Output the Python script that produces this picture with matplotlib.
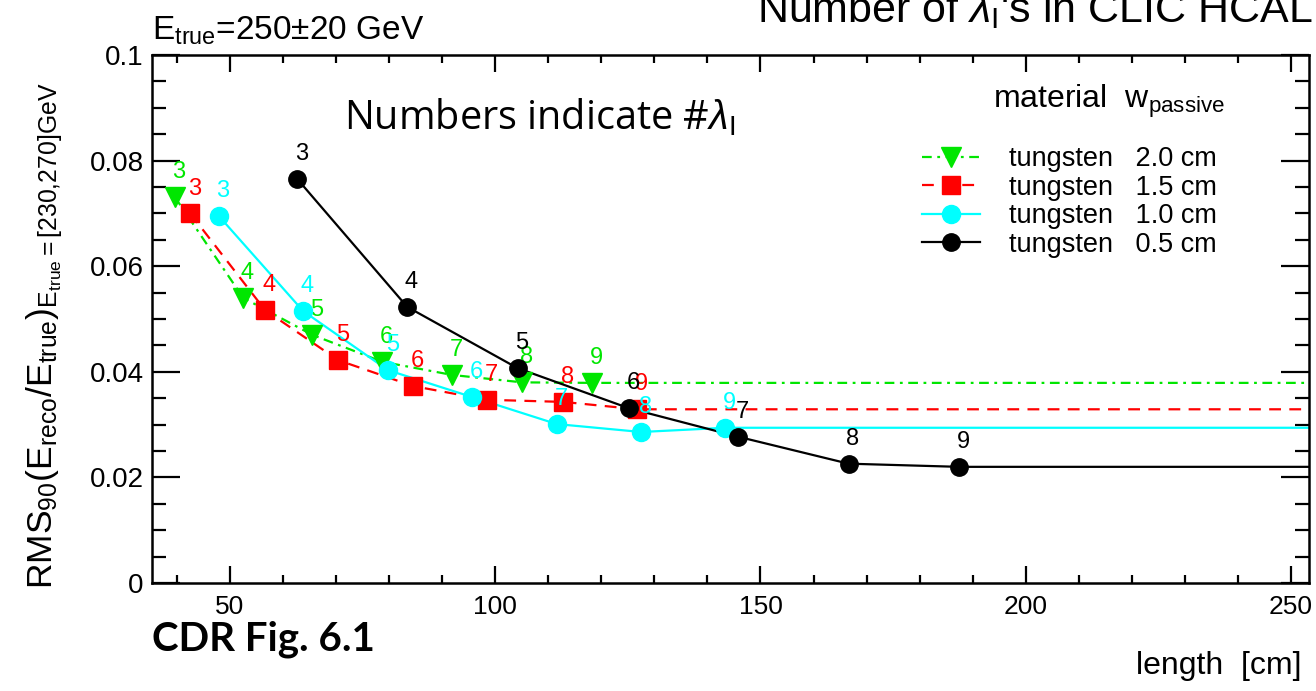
import matplotlib
matplotlib.use("Agg")
import matplotlib.pyplot as plt
from matplotlib.ticker import MultipleLocator

plt.rcParams['font.family'] = ['Liberation Sans', 'DejaVu Sans']
plt.rcParams['mathtext.fontset'] = 'custom'
plt.rcParams['mathtext.rm'] = 'Liberation Sans'
plt.rcParams['mathtext.it'] = 'Liberation Sans:italic'
plt.rcParams['lines.scale_dashes'] = False

# number of interaction lengths at each point
n_lambda = [3, 4, 5, 6, 7, 8, 9]

# tungsten 2.0 cm
len_w20 = [39.6, 52.5, 65.5, 78.7, 91.9, 105.1, 118.3]
rms_w20 = [0.0731, 0.0540, 0.0470, 0.0419, 0.0394, 0.0380, 0.0379]
# tungsten 1.5 cm
len_w15 = [42.5, 56.6, 70.4, 84.5, 98.4, 112.8, 126.8]
rms_w15 = [0.0700, 0.0517, 0.0422, 0.0373, 0.0347, 0.0343, 0.0329]
# tungsten 1.0 cm
len_w10 = [47.9, 63.8, 79.8, 95.7, 111.6, 127.5, 143.4]
rms_w10 = [0.0695, 0.0515, 0.0403, 0.0352, 0.0301, 0.0286, 0.0294]
# tungsten 0.5 cm
len_w05 = [62.7, 83.4, 104.2, 125.2, 145.8, 166.6, 187.4]
rms_w05 = [0.0765, 0.0523, 0.0407, 0.0331, 0.0277, 0.0226, 0.0220]

series = [
    (len_w20, rms_w20, '#00e600', 'v', (0, (7, 4, 2, 4)), 14.5, 'tungsten   2.0 cm'),
    (len_w15, rms_w15, '#ff0000', 's', (0, (8.5, 6)), 13.5, 'tungsten   1.5 cm'),
    (len_w10, rms_w10, '#00ffff', 'o', '-', 13.0, 'tungsten   1.0 cm'),
    (len_w05, rms_w05, '#000000', 'o', '-', 12.5, 'tungsten   0.5 cm'),
]

x_min, x_max = 35.3, 253.4

fig = plt.figure(figsize=(13.16, 6.91), dpi=100)
ax = fig.add_axes([152 / 1316, 1 - 583 / 691, (1309 - 152) / 1316, (583 - 55) / 691])

handles = []
for xs, ys, col, mk, ls, ms, lab in series:
    # the curve goes flat from the last point to the edge of the plot
    ax.plot(xs + [x_max + 10], ys + [ys[-1]], color=col, ls=ls, lw=1.6, zorder=2)
    ax.plot(xs, ys, ls='none', marker=mk, color=col, ms=ms, zorder=3)
    for n, x, y in zip(n_lambda, xs, ys):
        ax.annotate(str(n), (x, y), xytext=(3, 10), textcoords='offset points',
                    ha='center', va='bottom', color=col, fontsize=17)
    h, = ax.plot([], [], color=col, ls=ls, lw=1.6, marker=mk, ms=ms)
    handles.append((h, lab))

ax.set_xlim(x_min, x_max)
ax.set_ylim(0, 0.1)
ax.xaxis.set_major_locator(MultipleLocator(50))
ax.xaxis.set_minor_locator(MultipleLocator(10))
ax.set_yticks([0, 0.02, 0.04, 0.06, 0.08, 0.1])
ax.set_yticklabels(['0', '0.02', '0.04', '0.06', '0.08', '0.1'])
ax.yaxis.set_minor_locator(MultipleLocator(0.005))
ax.tick_params(which='both', direction='in', top=True, right=True, width=1.6)
ax.tick_params(axis='x', which='major', length=12, pad=9, labelsize=19)
ax.tick_params(axis='x', which='minor', length=6)
ax.tick_params(axis='y', which='major', length=20, pad=6, labelsize=20)
ax.tick_params(axis='y', which='minor', length=10)
for sp in ax.spines.values():
    sp.set_linewidth(1.8)

ax.legend([h for h, _ in handles], [l for _, l in handles], loc='upper left',
          bbox_to_anchor=(0.6655, 0.827), frameon=False, borderpad=0, borderaxespad=0,
          handlelength=2.16, labelspacing=0.09, handletextpad=1.06,
          prop={'size': 19.5})
ax.text(0.727, 0.912, r'material  w$_{\mathrm{passive}}$', transform=ax.transAxes,
        fontsize=23, va='center')

ax.text(0.166, 0.88, r'Numbers indicate #$\lambda_{\mathrm{I}}$', transform=ax.transAxes,
        fontsize=28.5, family=['Open Sans'], va='center')

fig.text(1302 / 1316, 1 - 666 / 691, 'length  [cm]', ha='right', va='center', fontsize=23)
fig.text(45 / 1316, 1 - 336 / 691,
         r'RMS$_{90}$(E$_{\mathrm{reco}}$/E$_{\mathrm{true}}$)$_{\mathrm{E_{true}=[230{,}270]GeV}}$',
         rotation=90, ha='center', va='center', fontsize=25.5)
fig.text(152 / 1316, 1 - 40 / 691, r'E$_{\mathrm{true}}$=250$\pm$20 GeV',
         ha='left', va='baseline', fontsize=24)
fig.text(757 / 1316, 1 - 22 / 691, r"Number of $\lambda_{\mathrm{I}}$'s in CLIC HCAL",
         ha='left', va='baseline', fontsize=31)
fig.text(152 / 1316, 1 - 650 / 691, 'CDR Fig. 6.1', ha='left', va='baseline',
         fontsize=29, fontweight='bold', family=['Lato'])

fig.savefig('out.png', dpi=100)
